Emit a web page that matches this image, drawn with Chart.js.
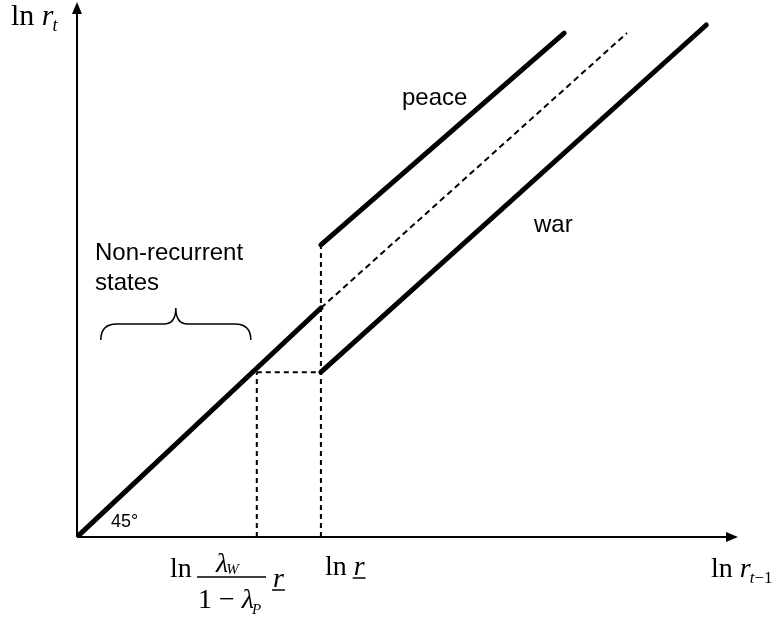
<!DOCTYPE html>
<html lang="en">
<head>
  <meta charset="UTF-8" />
  <title>Peace and war regimes</title>
  <script src="https://cdn.jsdelivr.net/npm/chart.js"></script>
  <style>
    html, body { margin: 0; padding: 0; background: #fff; }
    #wrap { width: 775px; height: 624px; }
  </style>
</head>
<body>
  <div id="wrap"><canvas id="regimeChart"></canvas></div>

  <script>
    // values in arbitrary axis units (0..100 on both axes)
    const threshold = 36.9;      // ln r (underlined)
    const lowerCut = 27.2;       // ln lambda_W/(1-lambda_P) r
    const diagX = [0, 36.9];
    const diagY = [0, 42.8];
    const diagDashX = [36.9, 83.2];
    const diagDashY = [42.8, 94.2];
    const peaceX = [36.9, 73.7];
    const peaceY = [54.6, 94.2];
    const warX = [36.9, 95.2];
    const warY = [30.8, 95.7];
    const guideVertY = [0, 54.6];
    const guideHorizY = 30.8;

    const pts = (xs, ys) => xs.map((x, i) => ({ x: x, y: ys[i] }));

    const solid = { borderColor: '#000', borderWidth: 5, borderCapStyle: 'round', pointRadius: 0, showLine: true, fill: false };
    const dashed = { borderColor: '#000', borderWidth: 2, borderDash: [5, 4], pointRadius: 0, showLine: true, fill: false };

    const datasets = [
      Object.assign({ label: '45 degree', data: pts(diagX, diagY) }, solid),
      Object.assign({ label: '45 degree (cont.)', data: pts(diagDashX, diagDashY) }, dashed, { borderDash: [6, 4] }),
      Object.assign({ label: 'peace', data: pts(peaceX, peaceY) }, solid),
      Object.assign({ label: 'war', data: pts(warX, warY) }, solid),
      Object.assign({ label: 'guide r', data: pts([threshold, threshold], guideVertY) }, dashed),
      Object.assign({ label: 'guide lower', data: pts([lowerCut, threshold], [guideHorizY, guideHorizY]) }, dashed),
      Object.assign({ label: 'guide lower v', data: pts([lowerCut, lowerCut], [0, guideHorizY]) }, dashed)
    ];

    // draws axes, arrows, brace and all the text
    const annotate = {
      id: 'annotate',
      afterDraw(chart) {
        const ctx = chart.ctx;
        const a = chart.chartArea;
        const sx = chart.scales.x, sy = chart.scales.y;
        ctx.save();
        ctx.fillStyle = '#000';
        ctx.strokeStyle = '#000';

        // axes
        ctx.lineWidth = 2;
        ctx.beginPath();
        ctx.moveTo(a.left, a.bottom); ctx.lineTo(a.right - 8, a.bottom);
        ctx.moveTo(a.left, a.bottom); ctx.lineTo(a.left, a.top + 8);
        ctx.stroke();
        ctx.beginPath();
        ctx.moveTo(a.right, a.bottom); ctx.lineTo(a.right - 12, a.bottom - 5); ctx.lineTo(a.right - 12, a.bottom + 5); ctx.closePath();
        ctx.moveTo(a.left, a.top); ctx.lineTo(a.left - 5, a.top + 12); ctx.lineTo(a.left + 5, a.top + 12); ctx.closePath();
        ctx.fill();

        // brace over non-recurrent states
        const bx0 = sx.getPixelForValue(3.6), bx1 = sx.getPixelForValue(26.3);
        const bm = (bx0 + bx1) / 2;
        const yb = sy.getPixelForValue(36.8), ym = sy.getPixelForValue(39.8), yt = sy.getPixelForValue(42.8);
        ctx.lineWidth = 1.5;
        ctx.beginPath();
        ctx.moveTo(bx0, yb);
        ctx.quadraticCurveTo(bx0, ym, bx0 + 16, ym);
        ctx.lineTo(bm - 12, ym);
        ctx.quadraticCurveTo(bm, ym, bm, yt);
        ctx.quadraticCurveTo(bm, ym, bm + 12, ym);
        ctx.lineTo(bx1 - 16, ym);
        ctx.quadraticCurveTo(bx1, ym, bx1, yb);
        ctx.stroke();

        // sans labels
        ctx.textBaseline = 'alphabetic';
        ctx.textAlign = 'left';
        ctx.font = '24px "Liberation Sans", Arial, sans-serif';
        ctx.fillText('peace', 402, 105);
        ctx.fillText('war', 534, 232);
        ctx.fillText('Non-recurrent', 95, 260);
        ctx.fillText('states', 95, 290);
        ctx.font = '18px "Liberation Sans", Arial, sans-serif';
        ctx.fillText('45°', 111, 527);

        // serif math labels
        const serif = (sz, it) => (it ? 'italic ' : '') + sz + 'px "Liberation Serif", "Times New Roman", serif';
        const put = (txt, x, y, sz, it) => { ctx.font = serif(sz, it); ctx.fillText(txt, x, y); return x + ctx.measureText(txt).width; };

        // y axis title: ln r_t
        let x = put('ln ', 11, 25, 30, false);
        x = put('r', x, 25, 30, true);
        put('t', x - 1, 31, 18, true);

        // x axis title: ln r_{t-1}
        x = put('ln ', 711, 577, 28, false);
        x = put('r', x, 577, 28, true);
        x = put('t', x - 1, 583, 17, true);
        put('\u22121', x, 583, 17, false);

        // ln r (underlined) under the threshold
        const tx = sx.getPixelForValue(threshold);
        x = put('ln ', tx + 4, 575, 28, false);
        const rx = x;
        x = put('r', x, 575, 28, true);
        ctx.lineWidth = 1.5;
        ctx.beginPath(); ctx.moveTo(rx - 1, 578); ctx.lineTo(x + 1, 578); ctx.stroke();

        // ln lambda_W / (1 - lambda_P) r (underlined)
        put('ln', 170, 577, 28, false);
        ctx.beginPath(); ctx.moveTo(197, 577); ctx.lineTo(266, 577); ctx.stroke();
        x = put('\u03bb', 216, 572, 28, true);
        put('W', x - 2, 574, 15, true);
        x = put('1 \u2212 ', 198, 608, 28, false);
        x = put('\u03bb', x, 608, 28, true);
        put('P', x - 2, 614, 15, true);
        x = put('r', 273, 587, 28, true);
        ctx.beginPath(); ctx.moveTo(272, 590); ctx.lineTo(x + 1, 590); ctx.stroke();

        ctx.restore();
      }
    };

    new Chart(document.getElementById('regimeChart'), {
      type: 'scatter',
      data: { datasets: datasets },
      options: {
        responsive: true,
        maintainAspectRatio: false,
        animation: false,
        layout: { padding: { left: 77, right: 37, top: 2, bottom: 87 } },
        plugins: { legend: { display: false }, tooltip: { enabled: false } },
        scales: {
          x: { type: 'linear', min: 0, max: 100, display: false },
          y: { type: 'linear', min: 0, max: 100, display: false }
        }
      },
      plugins: [annotate]
    });
  </script>
</body>
</html>
